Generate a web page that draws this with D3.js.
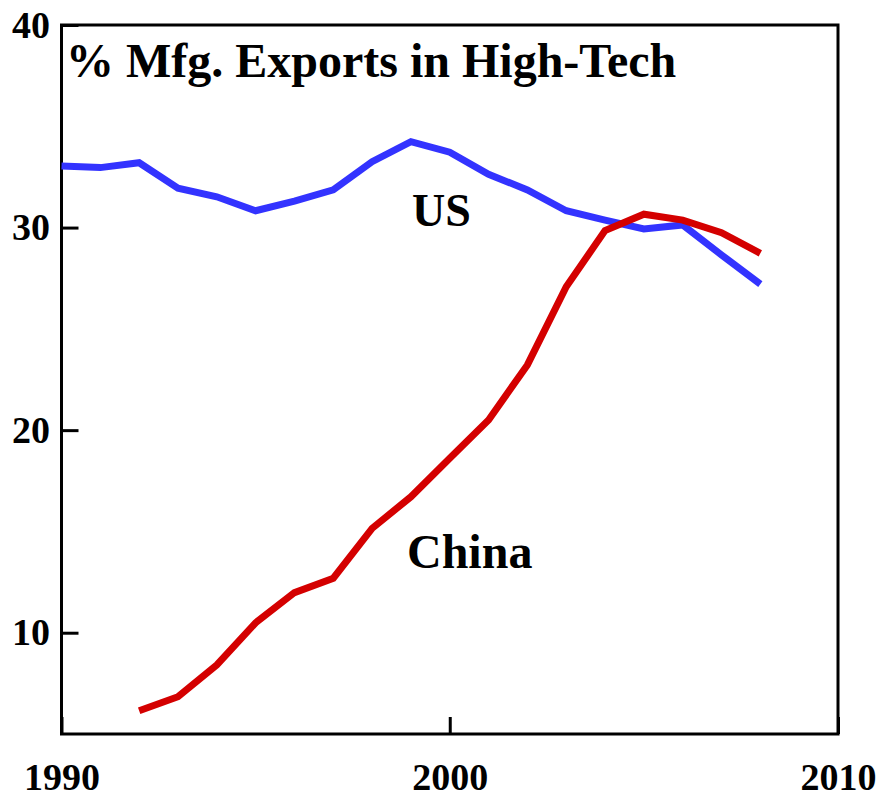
<!DOCTYPE html>
<html>
<head>
<meta charset="utf-8">
<script src="https://cdn.jsdelivr.net/npm/d3@7"></script>
<style>
  body { margin: 0; background: #fff; }
  text { font-family: "Liberation Serif", "Times New Roman", serif; font-weight: bold; fill: #000; }
</style>
</head>
<body>
<div id="chart"></div>
<script>
// Years and values
const usYears = [1990,1991,1992,1993,1994,1995,1996,1997,1998,1999,2000,2001,2002,2003,2004,2005,2006,2007,2008];
const usValues = [33.04,32.96,33.2,31.94,31.52,30.83,31.31,31.86,33.25,34.24,33.72,32.63,31.86,30.83,30.37,29.93,30.13,28.65,27.21];
const chinaYears = [1992,1993,1994,1995,1996,1997,1998,1999,2000,2001,2002,2003,2004,2005,2006,2007,2008];
const chinaValues = [6.15,6.84,8.41,10.49,11.98,12.69,15.15,16.71,18.61,20.5,23.22,27.08,29.85,30.66,30.37,29.75,28.73];
const xTicks = [1990, 2000, 2010];
const yTicks = [10, 20, 30, 40];

const W = 884, H = 798;
const margin = {top: 25, right: 46, bottom: 64, left: 61.5};

const svg = d3.select('#chart')
    .append('svg')
    .attr('width', W)
    .attr('height', H);

const x = d3.scaleLinear()
    .domain([1990, 2010])
    .range([margin.left, W - margin.right]);

const y = d3.scaleLinear()
    .domain([5, 40])
    .range([H - margin.bottom, margin.top]);

// Axes, ticks point inward
const xAxis = svg.append('g')
    .attr('transform', `translate(0,${H - margin.bottom})`)
    .call(d3.axisBottom(x).tickValues(xTicks).tickFormat(d3.format('d')).tickSize(-17).tickPadding(29));

const yAxis = svg.append('g')
    .attr('transform', `translate(${margin.left},0)`)
    .call(d3.axisLeft(y).tickValues(yTicks).tickSize(-17).tickPadding(11.5));

[xAxis, yAxis].forEach(g => {
    g.select('.domain').remove();
    g.selectAll('line').attr('stroke', '#000').attr('stroke-width', 3);
    g.selectAll('text')
        .attr('fill', '#000')
        .style('font-family', '"Liberation Serif", serif')
        .style('font-weight', 'bold')
        .style('font-size', '38px');
});

// Frame
svg.append('rect')
    .attr('x', margin.left)
    .attr('y', margin.top)
    .attr('width', W - margin.right - margin.left)
    .attr('height', H - margin.bottom - margin.top)
    .attr('fill', 'none')
    .attr('stroke', '#000')
    .attr('stroke-width', 3);

const line = d3.line()
    .x(d => x(d[0]))
    .y(d => y(d[1]));

svg.append('path')
    .datum(usYears.map((yr, i) => [yr, usValues[i]]))
    .attr('d', line)
    .attr('fill', 'none')
    .attr('stroke', '#3333ff')
    .attr('stroke-width', 7)
    .attr('stroke-linejoin', 'miter');

svg.append('path')
    .datum(chinaYears.map((yr, i) => [yr, chinaValues[i]]))
    .attr('d', line)
    .attr('fill', 'none')
    .attr('stroke', '#d40000')
    .attr('stroke-width', 7)
    .attr('stroke-linejoin', 'miter');

// Title and labels
svg.append('text')
    .attr('x', 66)
    .attr('y', 77)
    .style('font-size', '48px')
    .text('% Mfg. Exports in High-Tech');

svg.append('text')
    .attr('x', 412)
    .attr('y', 226)
    .style('font-size', '46px')
    .text('US');

svg.append('text')
    .attr('x', 407)
    .attr('y', 568)
    .style('font-size', '48px')
    .text('China');
</script>
</body>
</html>
